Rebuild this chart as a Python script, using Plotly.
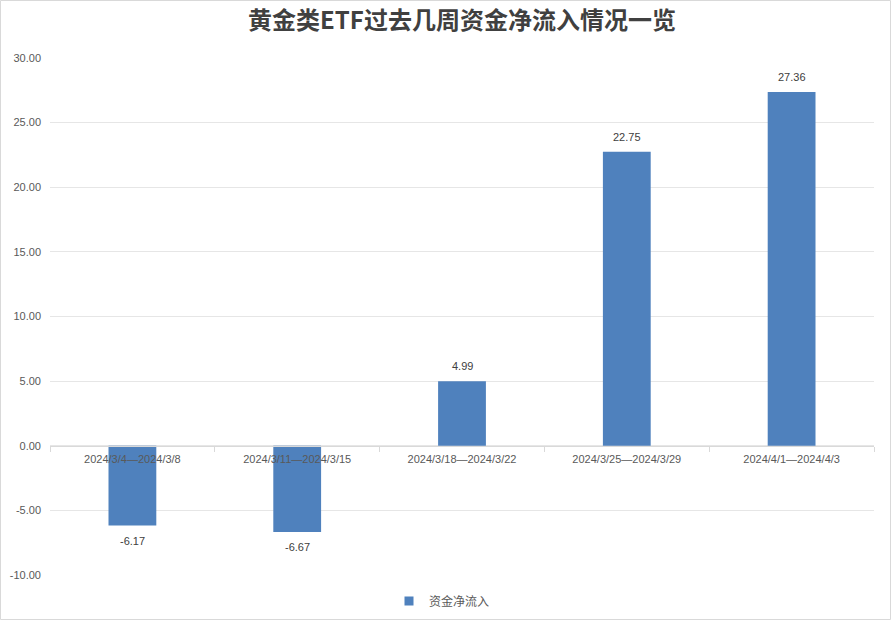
import plotly.graph_objects as go

title = "黄金类ETF过去几周资金净流入情况一览"
categories = ["2024/3/4—2024/3/8", "2024/3/11—2024/3/15", "2024/3/18—2024/3/22",
              "2024/3/25—2024/3/29", "2024/4/1—2024/4/3"]
values = [-6.17, -6.67, 4.99, 22.75, 27.36]
series_name = "资金净流入"
y_ticks = [-10, -5, 0, 5, 10, 15, 20, 25, 30]
y_tick_labels = ["%.2f" % v for v in y_ticks]

W, H = 891, 622
ml, mr, mt, mb = 50, 17, 58, 47
pw, ph = W - ml - mr, H - mt - mb

fig = go.Figure()
fig.add_trace(go.Bar(x=categories, y=values, name=series_name,
                     marker=dict(color="#4f81bd", line=dict(width=0)),
                     showlegend=False))
fig.add_trace(go.Scatter(x=[None], y=[None], mode="markers", name=series_name,
                         marker=dict(symbol="square", size=9, color="#4f81bd"),
                         showlegend=True))

for c, v in zip(categories, values):
    fig.add_annotation(x=c, y=v, xref="x", yref="y", text="%.2f" % v,
                       showarrow=False, yshift=15 if v >= 0 else -15,
                       font=dict(family="Liberation Sans, Arial", size=11, color="#404040"))

def px_x(p):
    return (p - ml) / pw

def px_y(p):
    return (H - mb - p) / ph

fig.add_shape(type="rect", xref="paper", yref="paper",
              x0=px_x(0.5), x1=px_x(W - 0.5), y0=px_y(0.5), y1=px_y(H - 2.5),
              line=dict(color="#d9d9d9", width=1), layer="below")

fig.update_layout(
    width=W, height=H,
    margin=dict(l=ml, r=mr, t=mt, b=mb, autoexpand=False),
    paper_bgcolor="white", plot_bgcolor="white",
    title=dict(text="<b>" + title + "</b>", x=0.5, xref="paper", y=1 - 21 / H,
               yanchor="middle",
               font=dict(family="Noto Sans CJK SC", size=24, color="#404040")),
    bargap=0.71,
    showlegend=True,
    legend=dict(orientation="h", x=px_x(442), xanchor="center", yref="container",
                y=1 - 601 / H, yanchor="middle",
                font=dict(family="Noto Sans CJK SC", size=12, color="#595959"),
                itemwidth=30),
    font=dict(family="Liberation Sans, Arial", size=11, color="#595959"),
)
fig.update_xaxes(anchor="free", position=10 / 40, showline=True, linecolor="#d9d9d9",
                 linewidth=1, ticks="outside", tickson="boundaries", ticklen=5,
                 tickcolor="#d9d9d9", showgrid=False, ticklabelstandoff=3,
                 tickfont=dict(family="Liberation Sans, Arial", size=11, color="#595959"))
fig.update_yaxes(range=[-10, 30], tickvals=y_ticks, ticktext=y_tick_labels,
                 showgrid=True, gridcolor="#e6e6e6", gridwidth=1, zeroline=False,
                 ticks="", ticklen=0, ticklabelstandoff=8,
                 tickfont=dict(family="Liberation Sans, Arial", size=11, color="#595959"))

fig.write_html("out.html")
